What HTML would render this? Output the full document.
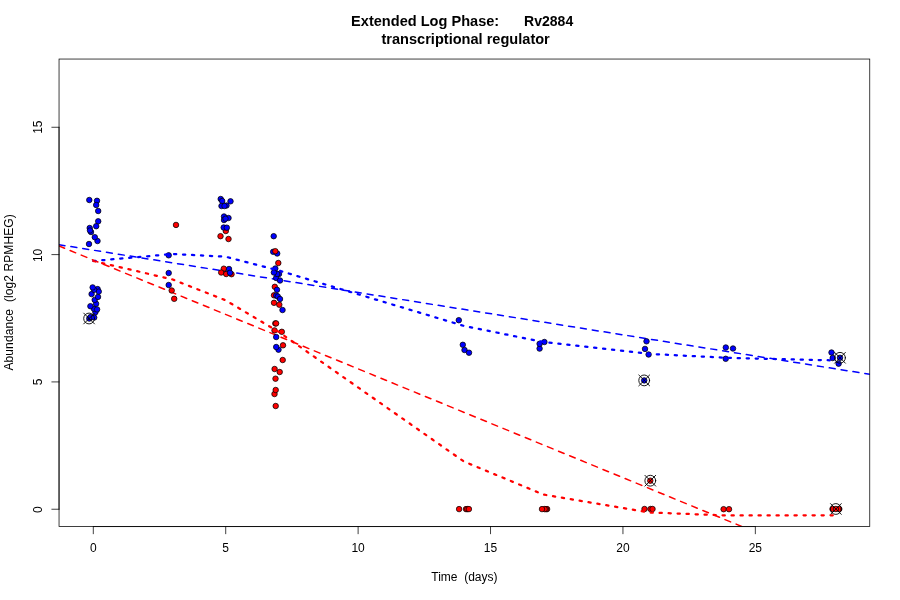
<!DOCTYPE html>
<html><head><meta charset="utf-8"><title>Extended Log Phase: Rv2884</title>
<style>
html,body{margin:0;padding:0;background:#fff;}
svg{display:block;}
text{font-family:"Liberation Sans",sans-serif;fill:#000;}
.t{font-size:12px;}
.m{font-size:15px;font-weight:bold;}
.ln{stroke:#000;stroke-width:0.75;fill:none;stroke-linecap:round;}
.p{stroke:#000;stroke-width:0.75;}
</style></head><body>
<svg width="900" height="600" viewBox="0 0 900 600">
<rect x="0" y="0" width="900" height="600" fill="#fff"/>
<defs><clipPath id="c"><rect x="59.04" y="59.04" width="810.72" height="467.52"/></clipPath></defs>

<text class="m" y="25.9" xml:space="preserve"><tspan x="351.1" textLength="148.1" lengthAdjust="spacingAndGlyphs">Extended Log Phase:</tspan><tspan>      </tspan><tspan x="524.1" textLength="49.1" lengthAdjust="spacingAndGlyphs">Rv2884</tspan></text>
<text class="m" x="381.5" y="44.0" textLength="168.3" lengthAdjust="spacingAndGlyphs">transcriptional regulator</text>
<text class="t" x="464.4" y="581" text-anchor="middle" xml:space="preserve">Time  (days)</text>
<text class="t" transform="translate(13.2,370.5) rotate(-90)" textLength="156.2" xml:space="preserve">Abundance  (log2 RPMHEG)</text>
<g clip-path="url(#c)">
<polyline points="59.04,244.70 869.76,374.30" fill="none" stroke="#00f" stroke-width="1.5" stroke-dasharray="6 6" stroke-linecap="round"/>
<polyline points="59.04,246.00 742.00,526.56" fill="none" stroke="#f00" stroke-width="1.5" stroke-dasharray="6 6" stroke-linecap="round"/>
<g class="p" fill="#f00">
<circle cx="176.0" cy="224.95" r="2.75"/>
<circle cx="174.2" cy="298.8" r="2.75"/>
<circle cx="225.8" cy="231.0" r="2.75"/>
<circle cx="220.5" cy="236.2" r="2.75"/>
<circle cx="228.5" cy="239.0" r="2.75"/>
<circle cx="223.8" cy="268.7" r="2.75"/>
<circle cx="221.2" cy="272.5" r="2.75"/>
<circle cx="226.2" cy="274.0" r="2.75"/>
<circle cx="231.5" cy="274.2" r="2.75"/>
<circle cx="278.3" cy="263.0" r="2.75"/>
<circle cx="274.8" cy="286.8" r="2.75"/>
<circle cx="274.0" cy="295.3" r="2.75"/>
<circle cx="274.0" cy="302.8" r="2.75"/>
<circle cx="279.3" cy="304.7" r="2.75"/>
<circle cx="275.3" cy="323.4" r="2.75"/>
<circle cx="276.1" cy="323.4" r="2.75"/>
<circle cx="274.5" cy="330.4" r="2.75"/>
<circle cx="281.8" cy="331.8" r="2.75"/>
<circle cx="283.0" cy="345.3" r="2.75"/>
<circle cx="282.7" cy="360.0" r="2.75"/>
<circle cx="274.6" cy="369.0" r="2.75"/>
<circle cx="279.7" cy="372.0" r="2.75"/>
<circle cx="275.5" cy="378.7" r="2.75"/>
<circle cx="274.5" cy="394.0" r="2.75"/>
<circle cx="275.7" cy="390.0" r="2.75"/>
<circle cx="275.7" cy="406.0" r="2.75"/>
<circle cx="459.1" cy="509.1" r="2.75"/>
<circle cx="466.0" cy="509.1" r="2.75"/>
<circle cx="467.3" cy="509.1" r="2.75"/>
<circle cx="468.9" cy="509.1" r="2.75"/>
<circle cx="547.1" cy="509.1" r="2.75"/>
<circle cx="546.0" cy="509.1" r="2.75"/>
<circle cx="544.7" cy="509.1" r="2.75"/>
<circle cx="542.0" cy="509.1" r="2.75"/>
<circle cx="644.5" cy="509.0" r="2.75"/>
<circle cx="650.5" cy="509.0" r="2.75"/>
<circle cx="652.5" cy="509.0" r="2.75"/>
<circle cx="650.3" cy="480.7" r="2.75"/>
<circle cx="723.6" cy="509.2" r="2.75"/>
<circle cx="729.0" cy="509.2" r="2.75"/>
<circle cx="832.5" cy="509.0" r="2.75"/>
<circle cx="839.3" cy="509.0" r="2.75"/>
<circle cx="835.9" cy="509.0" r="2.75"/>
</g><g class="p" fill="#00f">
<circle cx="89.3" cy="200.0" r="2.75"/>
<circle cx="97.0" cy="200.8" r="2.75"/>
<circle cx="96.2" cy="205.0" r="2.75"/>
<circle cx="98.2" cy="211.0" r="2.75"/>
<circle cx="98.2" cy="221.3" r="2.75"/>
<circle cx="96.2" cy="226.2" r="2.75"/>
<circle cx="89.7" cy="228.0" r="2.75"/>
<circle cx="91.0" cy="232.0" r="2.75"/>
<circle cx="90.0" cy="230.5" r="2.75"/>
<circle cx="97.5" cy="241.0" r="2.75"/>
<circle cx="94.8" cy="237.2" r="2.75"/>
<circle cx="89.0" cy="244.0" r="2.75"/>
<circle cx="89.3" cy="318.6" r="2.75"/>
<circle cx="90.5" cy="317.1" r="2.75"/>
<circle cx="94.2" cy="317.5" r="2.75"/>
<circle cx="95.4" cy="312.2" r="2.75"/>
<circle cx="93.9" cy="308.8" r="2.75"/>
<circle cx="97.1" cy="309.4" r="2.75"/>
<circle cx="90.4" cy="306.2" r="2.75"/>
<circle cx="96.1" cy="303.8" r="2.75"/>
<circle cx="94.7" cy="299.9" r="2.75"/>
<circle cx="98.0" cy="296.9" r="2.75"/>
<circle cx="91.6" cy="294.1" r="2.75"/>
<circle cx="97.6" cy="289.1" r="2.75"/>
<circle cx="98.75" cy="291.6" r="2.75"/>
<circle cx="94.1" cy="289.8" r="2.75"/>
<circle cx="92.65" cy="287.4" r="2.75"/>
<circle cx="168.7" cy="255.3" r="2.75"/>
<circle cx="168.7" cy="273.0" r="2.75"/>
<circle cx="168.7" cy="285.0" r="2.75"/>
<circle cx="220.7" cy="199.0" r="2.75"/>
<circle cx="222.2" cy="201.0" r="2.75"/>
<circle cx="230.5" cy="201.3" r="2.75"/>
<circle cx="221.5" cy="206.0" r="2.75"/>
<circle cx="226.5" cy="205.5" r="2.75"/>
<circle cx="224.5" cy="206.0" r="2.75"/>
<circle cx="224.0" cy="216.5" r="2.75"/>
<circle cx="228.5" cy="218.0" r="2.75"/>
<circle cx="224.0" cy="220.0" r="2.75"/>
<circle cx="225.5" cy="218.7" r="2.75"/>
<circle cx="223.7" cy="227.5" r="2.75"/>
<circle cx="226.8" cy="227.7" r="2.75"/>
<circle cx="229.0" cy="269.0" r="2.75"/>
<circle cx="230.0" cy="272.8" r="2.75"/>
<circle cx="273.7" cy="236.2" r="2.75"/>
<circle cx="273.2" cy="251.8" r="2.75"/>
<circle cx="277.2" cy="253.5" r="2.75"/>
<circle cx="275.3" cy="268.5" r="2.75"/>
<circle cx="276.2" cy="278.0" r="2.75"/>
<circle cx="279.0" cy="274.0" r="2.75"/>
<circle cx="277.2" cy="274.0" r="2.75"/>
<circle cx="273.9" cy="272.5" r="2.75"/>
<circle cx="280.0" cy="280.5" r="2.75"/>
<circle cx="277.0" cy="289.8" r="2.75"/>
<circle cx="276.2" cy="295.5" r="2.75"/>
<circle cx="277.8" cy="296.5" r="2.75"/>
<circle cx="280.0" cy="299.0" r="2.75"/>
<circle cx="282.5" cy="310.0" r="2.75"/>
<circle cx="276.2" cy="337.0" r="2.75"/>
<circle cx="278.5" cy="349.7" r="2.75"/>
<circle cx="276.2" cy="347.0" r="2.75"/>
<circle cx="458.8" cy="320.2" r="2.75"/>
<circle cx="462.8" cy="344.8" r="2.75"/>
<circle cx="464.5" cy="350.0" r="2.75"/>
<circle cx="469.0" cy="352.7" r="2.75"/>
<circle cx="544.4" cy="342.0" r="2.75"/>
<circle cx="539.6" cy="348.6" r="2.75"/>
<circle cx="539.6" cy="343.8" r="2.75"/>
<circle cx="646.5" cy="341.3" r="2.75"/>
<circle cx="645.0" cy="348.9" r="2.75"/>
<circle cx="648.6" cy="354.5" r="2.75"/>
<circle cx="644.2" cy="380.4" r="2.75"/>
<circle cx="725.8" cy="347.5" r="2.75"/>
<circle cx="733.0" cy="348.5" r="2.75"/>
<circle cx="725.7" cy="358.8" r="2.75"/>
<circle cx="831.5" cy="352.5" r="2.75"/>
<circle cx="832.7" cy="358.0" r="2.75"/>
<circle cx="838.6" cy="363.7" r="2.75"/>
<circle cx="840.0" cy="357.8" r="2.75"/>
</g><g class="p" fill="#f00">
<circle cx="171.7" cy="290.5" r="2.75"/>
<circle cx="275.3" cy="251.2" r="2.75"/>
</g>
<g class="ln" style="stroke-width:0.9">
<circle cx="89.1" cy="318.5" r="5.4"/><path d="M83.70 313.10L94.50 323.90M83.70 323.90L94.50 313.10"/>
<circle cx="644.2" cy="380.4" r="5.4"/><path d="M638.80 375.00L649.60 385.80M638.80 385.80L649.60 375.00"/>
<circle cx="650.3" cy="480.7" r="5.4"/><path d="M644.90 475.30L655.70 486.10M644.90 486.10L655.70 475.30"/>
<circle cx="840.0" cy="357.8" r="5.4"/><path d="M834.60 352.40L845.40 363.20M834.60 363.20L845.40 352.40"/>
<circle cx="835.9" cy="509.0" r="5.4"/><path d="M830.50 503.60L841.30 514.40M830.50 514.40L841.30 503.60"/>
</g>
<polyline points="93.30,261.00 172.70,254.00 225.60,256.70 278.60,270.50 463.90,325.90 543.30,342.00 649.20,353.90 728.60,357.90 834.50,360.40" fill="none" stroke="#00f" stroke-width="2.25" stroke-dasharray="2.25 6.75" stroke-linecap="round" stroke-linejoin="round"/>
<polyline points="93.30,261.00 172.70,279.50 225.60,300.30 278.60,331.80 463.90,461.50 543.30,494.50 649.20,512.50 728.60,515.50 834.50,515.30" fill="none" stroke="#f00" stroke-width="2.25" stroke-dasharray="2.25 6.75" stroke-linecap="round" stroke-linejoin="round"/>
</g>
<g class="ln">
<path d="M93.30 526.56L755.35 526.56"/>
<path d="M93.30 526.56L93.30 533.76"/>
<path d="M225.71 526.56L225.71 533.76"/>
<path d="M358.12 526.56L358.12 533.76"/>
<path d="M490.53 526.56L490.53 533.76"/>
<path d="M622.94 526.56L622.94 533.76"/>
<path d="M755.35 526.56L755.35 533.76"/>
<path d="M59.04 509.24L59.04 127.28"/>
<path d="M59.04 509.24L51.839999999999996 509.24"/>
<path d="M59.04 381.92L51.839999999999996 381.92"/>
<path d="M59.04 254.60L51.839999999999996 254.60"/>
<path d="M59.04 127.28L51.839999999999996 127.28"/>
<rect x="59.04" y="59.04" width="810.72" height="467.52"/>
</g>
<text class="t" x="93.30" y="552" text-anchor="middle">0</text>
<text class="t" x="225.71" y="552" text-anchor="middle">5</text>
<text class="t" x="358.12" y="552" text-anchor="middle">10</text>
<text class="t" x="490.53" y="552" text-anchor="middle">15</text>
<text class="t" x="622.94" y="552" text-anchor="middle">20</text>
<text class="t" x="755.35" y="552" text-anchor="middle">25</text>
<text class="t" transform="translate(41.5,509.74) rotate(-90)" text-anchor="middle">0</text>
<text class="t" transform="translate(41.5,381.92) rotate(-90)" text-anchor="middle">5</text>
<text class="t" transform="translate(41.5,255.40) rotate(-90)" text-anchor="middle">10</text>
<text class="t" transform="translate(41.5,127.18) rotate(-90)" text-anchor="middle">15</text>
</svg></body></html>
